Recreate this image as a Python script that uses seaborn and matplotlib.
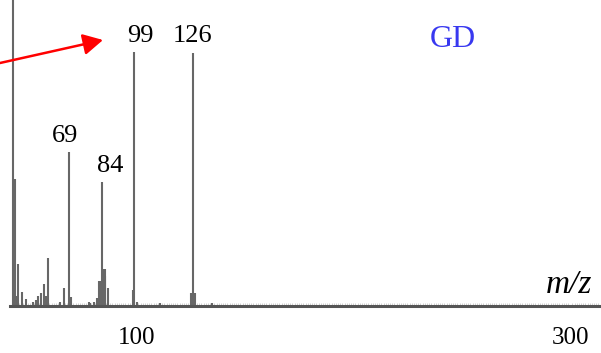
import matplotlib
matplotlib.use("Agg")
import matplotlib.pyplot as plt
import seaborn as sns
import pandas as pd

# ---- data ----
mz = [43, 44, 44.8, 45.5, 47.5, 49.4, 52.6, 54.0, 54.9, 55.9, 57.4, 58.6, 59.4,
      64.9, 66.7, 69, 69.9,
      78.0, 78.5, 80.3, 81.7, 82.6, 83.1, 84, 84.5, 84.9, 85.4, 85.8, 86.8,
      98.5, 99, 100.2, 111, 125.1, 125.5, 126, 126.9, 135]
intensity = [150, 50, 4, 16.6, 5.5, 2.8, 1.5, 2.5, 4, 5, 8.7, 4, 19,
             1.5, 7, 60.5, 3.5,
             1.5, 1, 1.5, 3, 10, 10, 49, 14.6, 14.6, 14.6, 12, 7,
             6.3, 100, 1.5, 1, 5, 5, 99.6, 5, 1]
peak_labels = ["69", "84", "99", "126"]
tick_values = [100, 300]
tick_labels = ["100", "300"]
sample_label = "GD"
axis_label = "m/z"

df = pd.DataFrame({"mz": mz, "intensity": intensity})

sns.set_theme(style="white")
plt.rcParams["font.family"] = ["Liberation Serif", "DejaVu Serif"]

W, H = 601, 353
fig = plt.figure(figsize=(W / 100, H / 100), dpi=100)
ax = fig.add_axes([10 / W, 47 / H, 591 / W, 306 / H])

ax.vlines(df["mz"], 0, df["intensity"], color="#676767", linewidth=1.5)

ax.set_xlim(41.8, 314.2)
ax.set_ylim(0, 120.5)
sns.despine(ax=ax, left=True, top=True, right=True)
ax.spines["bottom"].set_color("#555555")
ax.spines["bottom"].set_linewidth(2.2)
ax.set_yticks([])
ax.set_xticks(tick_values)
ax.set_xticklabels(tick_labels, fontsize=18)
ax.set_xticks([v for v in range(43, 315, 1)], minor=True)
ax.tick_params(axis="x", which="major", length=0, pad=15, colors="black")
ax.tick_params(axis="x", which="minor", bottom=True, direction="in", length=2.0,
               width=0.5, color="#bdbdbd")
ax.set_xlabel("")
ax.set_ylabel("")


def fx(px):
    return px / W


def fy(py):
    return 1 - py / H


label_pos = [(65.5, 142), (110, 172), (140.5, 42), (192.5, 42)]
for lab, (px, py) in zip(peak_labels, label_pos):
    fig.text(fx(px), fy(py), lab, ha="center", va="baseline", fontsize=19,
             color="black")

fig.text(fx(453), fy(47), sample_label, ha="center", va="baseline", fontsize=23,
         color="#3838f0")
fig.text(fx(569), fy(293), axis_label, ha="center", va="baseline", fontsize=24,
         style="italic", color="black")

ax.annotate("", xy=(103, H - 40), xytext=(0, H - 63),
            xycoords="figure pixels", textcoords="figure pixels",
            arrowprops=dict(arrowstyle="-|>,head_length=0.6,head_width=0.32",
                            color="#ff0000", lw=1.8, mutation_scale=20,
                            shrinkA=0, shrinkB=0))

fig.savefig("out.png", dpi=100)
